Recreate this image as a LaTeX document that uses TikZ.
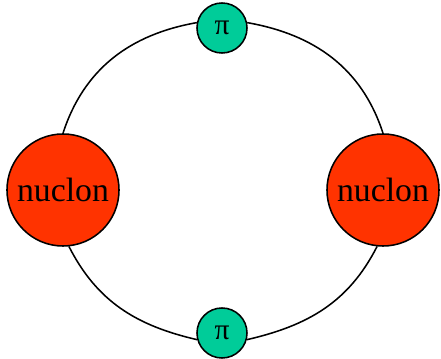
\documentclass[tikz,border=0pt]{standalone}
\usepackage{fontspec}
\setmainfont{Liberation Serif}
\definecolor{nucleonred}{RGB}{255,51,0}
\definecolor{piongreen}{RGB}{0,204,153}
\tikzset{
    nucleon/.style={circle, draw, line width=1.1pt, fill=nucleonred,
        minimum size=2.8cm, inner sep=0pt, font=\fontsize{24}{28}\selectfont},
    pion/.style={circle, draw, line width=1.1pt, fill=piongreen,
        minimum size=1.25cm, inner sep=0pt, font=\fontsize{21}{24}\selectfont},
    link/.style={line width=1.1pt}
}
\begin{document}
\begin{tikzpicture}[x=0.025cm, y=-0.025cm]
    \useasboundingbox (0,0) rectangle (441,359);

    % 核子
    \node[nucleon] (nL) at (63,190) {nuclon};
    \node[nucleon] (nR) at (383,190) {nuclon};

    % 介子
    \node[pion] (piT) at (222,28) {\raisebox{-3pt}{π}};
    \node[pion] (piB) at (222,333) {\raisebox{-2pt}{π}};

    % 连线
    \draw[link] (nL.90) to[out=72, in=190] (piT.168);
    \draw[link] (piT.12) to[out=-10, in=108] (nR.90);
    \draw[link] (nL.-84) to[out=-63, in=167] (piB.195);
    \draw[link] (piB.-15) to[out=13, in=-117] (nR.-96);
\end{tikzpicture}
\end{document}
